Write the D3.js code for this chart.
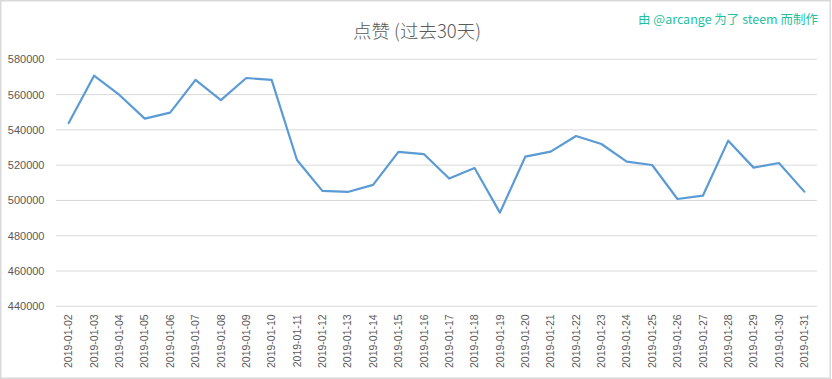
<!DOCTYPE html>
<html>
<head>
<meta charset="utf-8">
<script src="https://cdn.jsdelivr.net/npm/d3@7"></script>
<style>
  html, body { margin: 0; padding: 0; background: #fff; }
  svg { display: block; }
</style>
</head>
<body>
<svg id="chart" width="832" height="379"></svg>
<script>
const title = "点赞 (过去30天)";
const credit = "由 @arcange 为了 steem 而制作";
const dates = [
  "2019-01-02","2019-01-03","2019-01-04","2019-01-05","2019-01-06","2019-01-07",
  "2019-01-08","2019-01-09","2019-01-10","2019-01-11","2019-01-12","2019-01-13",
  "2019-01-14","2019-01-15","2019-01-16","2019-01-17","2019-01-18","2019-01-19",
  "2019-01-20","2019-01-21","2019-01-22","2019-01-23","2019-01-24","2019-01-25",
  "2019-01-26","2019-01-27","2019-01-28","2019-01-29","2019-01-30","2019-01-31"
];
const votes = [
  543900, 570700, 559800, 546400, 549800, 568300,
  556900, 569400, 568300, 522900, 505400, 504800,
  508800, 527500, 526300, 512400, 518400, 493100,
  524800, 527700, 536500, 532000, 522000, 520100,
  500800, 502700, 533900, 518600, 521200, 505000
];
const yTicks = [440000, 460000, 480000, 500000, 520000, 540000, 560000, 580000];

const svg = d3.select("#chart");
const plotLeft = 56, plotRight = 817, plotTop = 59.3, plotBottom = 306.3;

// outer frame
svg.append("rect")
  .attr("x", 0.75).attr("y", 0.75)
  .attr("width", 829.5).attr("height", 377.5)
  .attr("fill", "#fff").attr("stroke", "#d9d9d9").attr("stroke-width", 1.5);

const x = d3.scaleBand().domain(dates).range([plotLeft, plotRight]);
const y = d3.scaleLinear().domain([440000, 580000]).range([plotBottom, plotTop]);

// gridlines
svg.append("g").selectAll("line").data(yTicks).join("line")
  .attr("x1", plotLeft).attr("x2", plotRight)
  .attr("y1", d => y(d)).attr("y2", d => y(d))
  .attr("stroke", "#d9d9d9").attr("stroke-width", 1);

// y axis labels
const yAxis = d3.axisLeft(y).tickValues(yTicks).tickSize(0).tickPadding(11.5).tickFormat(d3.format("d"));
const gy = svg.append("g").attr("transform", `translate(${plotLeft},0)`).call(yAxis);
gy.select(".domain").remove();
gy.selectAll("text")
  .attr("fill", "#595959")
  .style("font-family", "'Liberation Sans', Arial, sans-serif")
  .style("font-size", "11px");

// x axis labels
const xAxis = d3.axisBottom(x).tickSize(0).tickPadding(0);
const gx = svg.append("g").attr("transform", `translate(0,${plotBottom})`).call(xAxis);
gx.select(".domain").remove();
gx.selectAll("text")
  .attr("fill", "#595959")
  .style("font-family", "'Liberation Sans', Arial, sans-serif")
  .style("font-size", "10.5px")
  .attr("text-anchor", "end")
  .attr("transform", "rotate(-90)")
  .attr("x", -8)
  .attr("y", 0)
  .attr("dy", "0.35em");

// line
const line = d3.line()
  .x((d, i) => x(dates[i]) + x.bandwidth() / 2)
  .y(d => y(d));
svg.append("path")
  .datum(votes)
  .attr("d", line)
  .attr("fill", "none")
  .attr("stroke", "#5b9bd5")
  .attr("stroke-width", 2.2)
  .attr("stroke-linejoin", "round")
  .attr("stroke-linecap", "round");

// title
svg.append("text")
  .attr("x", 417).attr("y", 30)
  .attr("text-anchor", "middle")
  .attr("dominant-baseline", "central")
  .attr("fill", "#595959")
  .style("font-family", "'Noto Sans CJK SC', sans-serif")
  .style("font-weight", "300")
  .style("font-size", "18.5px")
  .text(title);

// credit
svg.append("text")
  .attr("x", 818).attr("y", 18)
  .attr("text-anchor", "end")
  .attr("dominant-baseline", "central")
  .attr("fill", "#1fbf9f")
  .style("font-family", "'Noto Sans CJK SC', sans-serif")
  .style("font-size", "12.5px")
  .text(credit);
</script>
</body>
</html>
